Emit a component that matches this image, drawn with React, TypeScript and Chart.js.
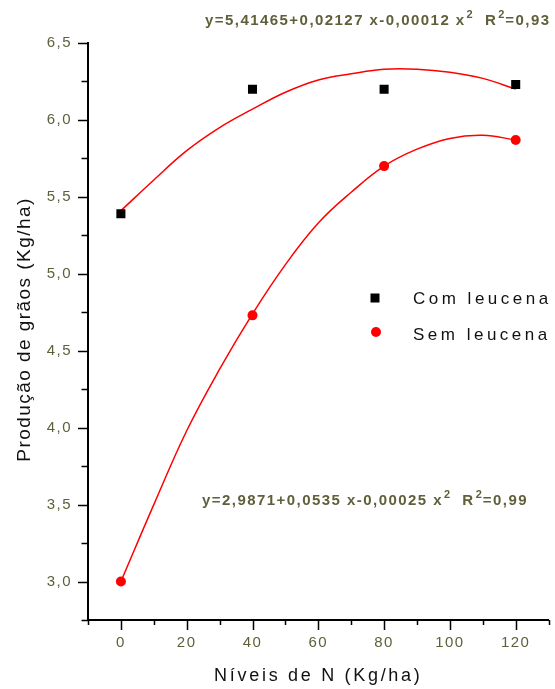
import React, { useEffect, useRef } from 'react';
import { Chart, registerables } from 'chart.js';

Chart.register(...registerables);

// ---- data ----
const doseN = [0, 40, 80, 120];
const comLeucena = [5.39, 6.2, 6.2, 6.23];
const semLeucena = [3.0, 4.73, 5.7, 5.87];

// fitted curves
const fitX = [0, 10, 20, 30, 40, 50, 60, 70, 80, 90, 100, 110, 120];
const comFit = [5.41, 5.61, 5.8, 5.95, 6.07, 6.18, 6.26, 6.3, 6.33, 6.33, 6.31, 6.27, 6.2];
const semFit = [3.0, 3.5, 3.98, 4.38, 4.74, 5.06, 5.33, 5.53, 5.7, 5.81, 5.88, 5.9, 5.87];

const xTickValues = [0, 20, 40, 60, 80, 100, 120];
const xTickLabels = ['0', '20', '40', '60', '80', '100', '120'];
const yTickValues = [3.0, 3.5, 4.0, 4.5, 5.0, 5.5, 6.0, 6.5];
const yTickLabels = ['3,0', '3,5', '4,0', '4,5', '5,0', '5,5', '6,0', '6,5'];

const seriesNames = ['Com leucena', 'Sem leucena'];
const xTitle = 'Níveis de N (Kg/ha)';
const yTitle = 'Produção de grãos (Kg/ha)';
const eqCom = [['y=5,41465+0,02127 x-0,00012 x', '2'], ['  R', '2'], ['=0,93', '']];
const eqSem = [['y=2,9871+0,0535 x-0,00025 x', '2'], ['  R', '2'], ['=0,99', '']];

const FONT = '"Liberation Sans", Arial, sans-serif';
const OLIVE = '#5f5f3a';
const RED = '#ff0000';

function drawEq(ctx: CanvasRenderingContext2D, x: number, y: number, parts: string[][]) {
  let cx = x;
  ctx.textAlign = 'left';
  ctx.textBaseline = 'alphabetic';
  ctx.fillStyle = OLIVE;
  for (const [main, sup] of parts) {
    ctx.font = `bold 15px ${FONT}`;
    (ctx as any).letterSpacing = '1.45px';
    ctx.fillText(main, cx, y);
    cx += ctx.measureText(main).width;
    if (sup) {
      ctx.font = `bold 11px ${FONT}`;
      (ctx as any).letterSpacing = '0px';
      ctx.fillText(sup, cx + 1, y - 7);
      cx += ctx.measureText(sup).width + 2;
    }
  }
}

const annotPlugin = {
  id: 'annot',
  beforeDraw(chart: any) {
    (chart.ctx as any).letterSpacing = '1.5px';
  },
  afterDraw(chart: any) {
    const ctx: CanvasRenderingContext2D = chart.ctx;
    const ca = chart.chartArea;
    const xs = chart.scales.x;
    const ys = chart.scales.y;
    ctx.save();
    ctx.strokeStyle = '#000';
    ctx.lineWidth = 1.5;
    // tick marks (major + minor)
    ctx.beginPath();
    for (let v = ys.min; v <= ys.max + 1e-9; v += 0.25) {
      const py = Math.round(ys.getPixelForValue(v)) + 0.5;
      const major = yTickValues.some((t) => Math.abs(t - v) < 1e-6);
      ctx.moveTo(ca.left - (major ? 10 : 6.5), py);
      ctx.lineTo(ca.left, py);
    }
    for (let v = xs.min; v <= xs.max + 1e-9; v += 10) {
      const px = Math.round(xs.getPixelForValue(v)) + 0.5;
      const major = xTickValues.some((t) => Math.abs(t - v) < 1e-6);
      ctx.moveTo(px, ca.bottom);
      ctx.lineTo(px, ca.bottom + (major ? 10 : 5));
    }
    ctx.stroke();

    // equations
    drawEq(ctx, ca.left + 117, ca.top - 18, eqCom);
    drawEq(ctx, ca.left + 114, ca.top + 462, eqSem);

    // legend
    const lx = ca.left + 287;
    const ly1 = ca.top + 255;
    const ly2 = ca.top + 289;
    ctx.fillStyle = '#000';
    ctx.fillRect(lx - 4.5, ly1 - 4.5, 9, 9);
    ctx.fillStyle = RED;
    ctx.beginPath();
    ctx.arc(lx + 1, ly2, 5, 0, Math.PI * 2);
    ctx.fill();
    ctx.fillStyle = '#111';
    ctx.font = `17px ${FONT}`;
    (ctx as any).letterSpacing = '3.5px';
    ctx.textBaseline = 'alphabetic';
    ctx.textAlign = 'left';
    ctx.fillText(seriesNames[0], ca.left + 325, ly1 + 6);
    ctx.fillText(seriesNames[1], ca.left + 325, ly2 + 8);

    // axis titles
    ctx.textAlign = 'center';
    ctx.font = `18px ${FONT}`;
    (ctx as any).letterSpacing = '2.7px';
    ctx.fillText(xTitle, (ca.left + ca.right) / 2, ca.bottom + 61);
    ctx.font = `19px ${FONT}`;
    (ctx as any).letterSpacing = '1.45px';
    ctx.translate(ca.left - 58, (ca.top + ca.bottom) / 2 - 2);
    ctx.rotate(-Math.PI / 2);
    ctx.fillText(yTitle, 0, 0);
    ctx.restore();
    (ctx as any).letterSpacing = '0px';
  },
};

export default function App() {
  const ref = useRef<HTMLCanvasElement | null>(null);
  useEffect(() => {
    if (!ref.current) return;
    const chart = new Chart(ref.current, {
      type: 'scatter',
      data: {
        datasets: [
          {
            label: seriesNames[0],
            data: doseN.map((x, i) => ({ x, y: comLeucena[i] })),
            pointStyle: 'rect',
            pointRadius: 6.4,
            backgroundColor: '#000',
            borderColor: '#000',
            borderWidth: 0,
            showLine: false,
            order: 0,
          },
          {
            label: seriesNames[1],
            data: doseN.map((x, i) => ({ x, y: semLeucena[i] })),
            pointStyle: 'circle',
            pointRadius: 5,
            backgroundColor: RED,
            borderColor: RED,
            borderWidth: 0,
            showLine: false,
            order: 1,
          },
          {
            label: 'fit com',
            data: fitX.map((x, i) => ({ x, y: comFit[i] })),
            showLine: true,
            pointRadius: 0,
            borderColor: RED,
            borderWidth: 1.5,
            tension: 0.4,
            order: 2,
          },
          {
            label: 'fit sem',
            data: fitX.map((x, i) => ({ x, y: semFit[i] })),
            showLine: true,
            pointRadius: 0,
            borderColor: RED,
            borderWidth: 1.5,
            tension: 0.4,
            order: 3,
          },
        ],
      },
      options: {
        responsive: false,
        animation: false,
        layout: { padding: { top: 43, right: 0, left: 0, bottom: 0 } },
        plugins: { legend: { display: false }, tooltip: { enabled: false }, title: { display: false } },
        scales: {
          x: {
            type: 'linear',
            min: -10,
            max: 130,
            grid: { display: false, drawTicks: false },
            border: { display: true, color: '#000', width: 2 },
            afterFit: (s: any) => { s.height = 69; },
            afterBuildTicks: (s: any) => { s.ticks = xTickValues.map((v) => ({ value: v })); },
            ticks: {
              padding: 14,
              color: OLIVE,
              font: { family: FONT, size: 15 },
              maxRotation: 0,
              autoSkip: false,
              callback: (v: any) => {
                const i = xTickValues.findIndex((t) => Math.abs(t - Number(v)) < 1e-6);
                return i >= 0 ? xTickLabels[i] : '';
              },
            },
          },
          y: {
            type: 'linear',
            min: 2.75,
            max: 6.5,
            grid: { display: false, drawTicks: false },
            border: { display: true, color: '#000', width: 2 },
            afterFit: (s: any) => { s.width = 88; },
            afterBuildTicks: (s: any) => { s.ticks = yTickValues.map((v) => ({ value: v })); },
            ticks: {
              padding: 16,
              color: OLIVE,
              font: { family: FONT, size: 15 },
              autoSkip: false,
              callback: (v: any) => {
                const i = yTickValues.findIndex((t) => Math.abs(t - Number(v)) < 1e-6);
                return i >= 0 ? yTickLabels[i] : '';
              },
            },
          },
        },
      },
      plugins: [annotPlugin],
    } as any);
    return () => chart.destroy();
  }, []);
  return (
    <div style={{ position: 'absolute', left: 0, top: 0, width: 555, height: 689, background: '#fff' }}>
      <canvas ref={ref} width={555} height={689} style={{ width: 555, height: 689, display: 'block' }} />
    </div>
  );
}
